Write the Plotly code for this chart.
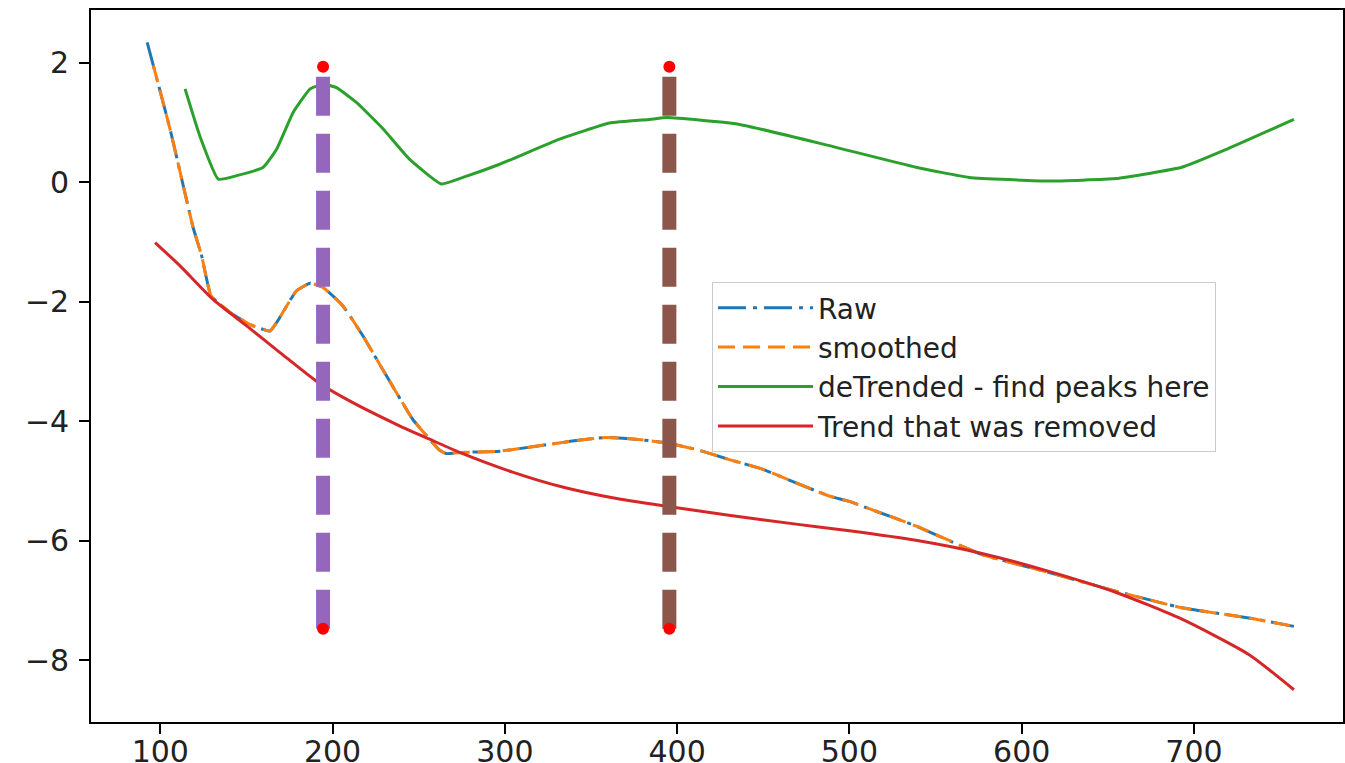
import plotly.graph_objects as go

# ---------------- data ----------------
raw_x = [92.4, 106, 119, 124, 129.5, 140.5, 152, 163.7, 167.5, 179, 187, 194.4, 206, 217.6,
         231.3, 246.6, 256.4, 262, 266, 275.6, 297, 320, 339, 358.8, 376, 393.6, 411, 430.3,
         449.5, 469, 488.3, 500, 515, 538.6, 577, 616, 654.5, 693, 731.8, 758]
raw_y = [2.34, 0.85, -0.75, -1.23, -1.90, -2.18, -2.38, -2.49, -2.35, -1.82, -1.69, -1.76, -2.07, -2.57,
         -3.24, -3.97, -4.30, -4.48, -4.54, -4.52, -4.50, -4.41, -4.33, -4.27, -4.30, -4.36, -4.47, -4.64,
         -4.80, -5.03, -5.25, -5.34, -5.50, -5.75, -6.23, -6.53, -6.84, -7.12, -7.29, -7.43]

smooth_x = [96, 106, 119, 124, 129.5, 140.5, 152, 163.7, 167.5, 179, 187, 194.4, 206, 217.6,
            231.3, 246.6, 256.4, 262, 266, 275.6, 297, 320, 339, 358.8, 376, 393.6, 411, 430.3,
            449.5, 469, 488.3, 500, 515, 538.6, 577, 616, 654.5, 693, 731.8, 758]
smooth_y = [1.95, 0.85, -0.75, -1.23, -1.90, -2.18, -2.38, -2.49, -2.35, -1.82, -1.69, -1.76, -2.07, -2.57,
            -3.24, -3.97, -4.30, -4.48, -4.54, -4.52, -4.50, -4.41, -4.33, -4.27, -4.30, -4.36, -4.47, -4.64,
            -4.80, -5.03, -5.25, -5.34, -5.50, -5.75, -6.23, -6.53, -6.84, -7.12, -7.29, -7.43]

detrended_x = [114.4, 123, 133.7, 144.4, 159.8, 167.5, 177.2, 187, 194.6, 202.3, 214, 229.4, 244.8,
               263.2, 275.7, 297, 331.8, 360.8, 384, 394.3, 435.5, 487, 538.6, 569.5, 615.8, 654.5,
               693, 718.9, 758]
detrended_y = [1.56, 0.77, 0.05, 0.11, 0.25, 0.55, 1.17, 1.56, 1.64, 1.58, 1.33, 0.89, 0.38,
               -0.03, 0.08, 0.30, 0.72, 0.99, 1.05, 1.08, 0.97, 0.62, 0.25, 0.08, 0.02, 0.06,
               0.25, 0.55, 1.05]

trend_x = [97, 111.5, 130.6, 150, 169.5, 190.7, 208, 237, 256.4, 273.8, 304.5, 333.5, 362.5, 393.6,
           430, 469, 500, 538.6, 577, 615.8, 654.5, 693, 731.8, 758]
trend_y = [-1.01, -1.40, -1.96, -2.40, -2.85, -3.33, -3.63, -4.05, -4.30, -4.52, -4.85, -5.10, -5.28, -5.42,
           -5.57, -5.72, -5.83, -5.99, -6.21, -6.51, -6.86, -7.31, -7.90, -8.49]

peak_x = [194.5, 395.5]
peak_low = -7.47
peak_high = 1.93
peak_colors = ["#9467bd", "#8c564b"]

x_ticks = [100, 200, 300, 400, 500, 600, 700]
y_ticks = [-8, -6, -4, -2, 0, 2]

FONT = "DejaVu Sans"

fig = go.Figure()

fig.add_trace(go.Scatter(x=raw_x, y=raw_y, mode="lines", name="Raw",
                         line=dict(color="#1f77b4", width=3, dash="28px,7px,4px,7px",
                                   shape="spline", smoothing=0.4)))
fig.add_trace(go.Scatter(x=smooth_x, y=smooth_y, mode="lines", name="smoothed",
                         line=dict(color="#ff7f0e", width=3, dash="17px,8px",
                                   shape="spline", smoothing=0.4)))
fig.add_trace(go.Scatter(x=detrended_x, y=detrended_y, mode="lines",
                         name="deTrended - find peaks here",
                         line=dict(color="#2ca02c", width=3, shape="spline", smoothing=0.4)))
fig.add_trace(go.Scatter(x=trend_x, y=trend_y, mode="lines", name="Trend that was removed",
                         line=dict(color="#d62728", width=3, shape="spline", smoothing=0.6)))

for px, col in zip(peak_x, peak_colors):
    fig.add_trace(go.Scatter(x=[px, px], y=[peak_low, peak_high], mode="lines",
                             showlegend=False, hoverinfo="skip",
                             line=dict(color=col, width=14, dash="39px,18px")))

fig.add_trace(go.Scatter(x=peak_x + peak_x, y=[peak_high] * len(peak_x) + [peak_low] * len(peak_x),
                         mode="markers", showlegend=False,
                         marker=dict(color="red", size=12, line=dict(width=0))))

axis_common = dict(showline=True, linecolor="black", linewidth=1.6, mirror=True,
                   ticks="outside", ticklen=10, tickwidth=1.6, tickcolor="black",
                   showgrid=False, zeroline=False, automargin=False,
                   tickfont=dict(family=FONT, size=30, color="#222222"))

fig.update_xaxes(range=[59.8, 786.5], tickvals=x_ticks, ticklabelstandoff=-8, **axis_common)
fig.update_yaxes(range=[-9.03, 2.88], tickvals=y_ticks, ticklabelstandoff=4, **axis_common)

fig.update_layout(
    width=1345, height=763, autosize=False,
    margin=dict(l=91, r=2, t=10, b=41),
    paper_bgcolor="white", plot_bgcolor="white",
    font=dict(family=FONT, size=28, color="#222222"),
    legend=dict(x=0.496, y=0.618, xanchor="left", yanchor="top",
                bgcolor="rgba(255,255,255,0.85)", bordercolor="#cccccc", borderwidth=1,
                font=dict(family=FONT, size=28, color="#222222"),
                itemwidth=95),
)

fig.write_html("out.html", config={"displayModeBar": False},
               post_script="document.body.style.margin='0';")
